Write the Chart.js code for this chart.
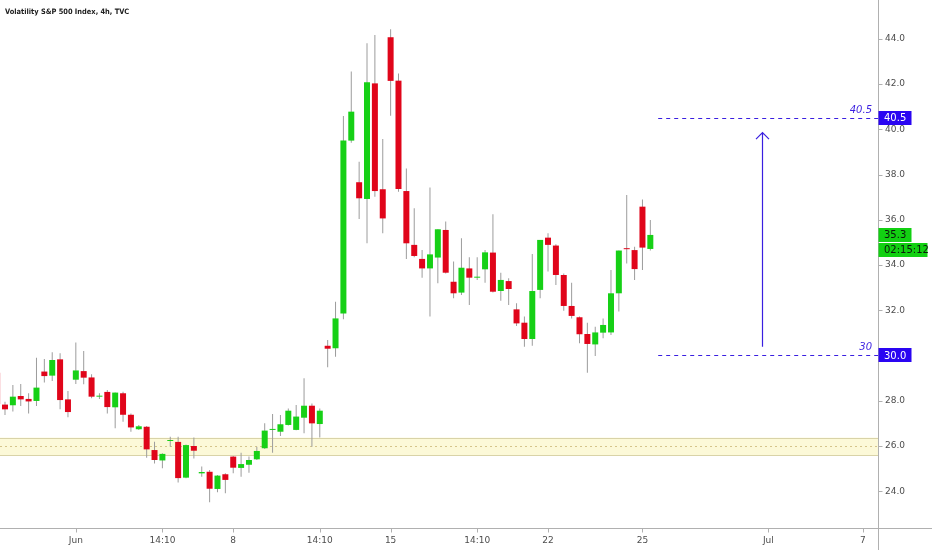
<!DOCTYPE html>
<html><head><meta charset="utf-8">
<script src="https://cdn.jsdelivr.net/npm/chart.js@4.4.0/dist/chart.umd.min.js"></script>
<style>html,body{margin:0;padding:0;background:#fff;overflow:hidden}canvas{display:block}</style>
</head><body>
<canvas id="c" width="932" height="550"></canvas>
<script>
// ---- data (4h candles, VIX) ----
const candleIdx = [0,1,2,3,4,5,6,7,8,9,10,11,12,13,14,15,16,17,18,19,20,21,22,23,24,25,26,27,28,29,30,31,32,33,34,35,36,37,38,39,40,41,42,43,44,45,46,47,48,49,50,51,52,53,54,55,56,57,58,59,60,61,62,63,64,65,66,67,68,69,70,71,72,73,74,75,76,77,78,79,80,81,82,83];
const opens  = [29.24,27.83,27.80,28.21,28.08,27.99,29.29,29.11,29.83,28.06,28.93,29.31,29.03,28.18,28.39,27.71,28.33,27.38,26.74,26.85,25.82,25.36,26.22,26.18,24.60,26.00,24.79,24.86,24.10,24.75,25.53,25.03,25.17,25.41,25.90,26.71,26.63,26.93,26.71,27.25,27.78,26.97,30.43,30.32,31.86,39.50,37.66,36.92,42.03,37.35,44.07,42.15,37.27,34.89,34.27,33.85,34.33,35.55,33.26,32.78,33.85,33.44,33.81,34.55,32.85,33.29,32.04,31.45,30.73,32.90,35.21,34.86,33.56,32.19,31.69,30.95,30.49,31.01,31.02,32.75,34.72,34.66,36.58,34.71];
const highs  = [29.50,27.96,28.70,28.74,28.33,29.90,29.85,30.14,30.10,28.43,30.58,30.20,29.17,28.33,28.48,28.36,28.40,27.44,26.93,26.88,26.19,25.68,26.41,26.41,26.07,26.38,25.09,24.94,24.72,24.79,25.56,25.70,25.53,25.97,27.00,27.41,27.37,27.66,27.81,28.99,27.88,27.66,30.68,32.38,40.59,42.55,38.57,43.80,44.17,39.57,44.42,42.47,38.27,36.51,34.66,37.43,35.58,35.92,34.15,35.18,34.34,34.34,34.66,36.24,33.66,33.41,32.31,31.72,34.49,35.11,35.40,34.92,33.63,33.22,31.72,31.45,31.27,31.64,33.78,34.64,37.10,34.81,36.90,35.99];
const lows   = [27.70,27.37,27.52,27.77,27.44,27.77,28.81,28.87,27.62,27.27,28.74,28.73,28.11,28.08,27.44,26.78,27.07,26.63,26.71,25.48,25.23,25.01,25.97,24.38,24.57,25.45,24.64,23.51,23.95,23.91,24.79,24.64,24.82,25.38,25.87,25.70,26.44,26.90,26.69,26.56,25.97,26.37,29.48,29.95,31.60,39.41,36.03,34.96,37.02,35.40,40.60,37.24,34.27,34.34,33.44,31.72,33.19,33.63,32.53,32.67,32.23,33.34,33.22,32.79,32.42,32.23,31.30,30.39,30.43,32.53,33.71,33.12,31.98,31.64,30.54,29.24,29.98,30.76,30.91,31.94,34.07,33.34,33.78,34.64];
const closes = [27.86,27.62,28.18,28.06,27.97,28.58,29.09,29.80,28.03,27.50,29.34,29.02,28.18,28.20,27.72,28.36,27.38,26.82,26.87,25.85,25.38,25.65,26.22,24.58,26.04,25.79,24.85,24.11,24.69,24.50,25.04,25.20,25.38,25.78,26.68,26.71,26.96,27.56,27.30,27.78,27.00,27.56,30.30,31.64,39.50,40.78,36.95,42.08,37.27,36.06,42.14,37.36,34.96,34.40,33.85,34.47,35.58,33.66,32.75,33.88,33.44,33.45,34.56,32.82,33.34,32.94,31.42,30.73,32.85,35.11,34.89,33.56,32.19,31.75,30.94,30.51,31.02,31.35,32.75,34.64,34.70,33.82,34.77,35.33];

const xTickPos    = [10, 21, 30, 41, 50, 61, 70, 82, 98, 110];
const xTickLabels = ['Jun','14:10','8','14:10','15','14:10','22','25','Jul','7'];
const yTicks      = [24, 26, 28, 30, 32, 34, 36, 38, 40, 42, 44];

// drawings
const zone      = [25.60, 26.37];  // support band
const zoneMid   = [26.0];
const levels    = [40.5, 30.0];    // target / base lines
const levelText = ['40.5', '30'];
const levelStart = [84];
const arrowFromTo = [30.39, 39.85];
const arrowAt   = [97.15];
const lastPrice = [35.33];
const lastText  = ['35.3', '02:15:12'];
const titleText = 'Volatility S&P 500 Index, 4h, TVC';

// ---- styles ----
const UP = '#16d016', DOWN = '#e0051a', WICK = '#9c9c9c';
const BLUE = '#3a1fe0', BLUEBOX = '#2a05f2', GREENBOX = '#12d012';
const AXIS = '#b0b0b0', TXT = '#4d4d4d';
const FONT = '"DejaVu Sans", sans-serif';

const bodyData = candleIdx.map((x, i) => ({x, y: [Math.min(opens[i], closes[i]), Math.max(opens[i], closes[i])]}));
const wickData = candleIdx.map((x, i) => ({x, y: [lows[i], highs[i]]}));
const bodyColors = candleIdx.map((x, i) => closes[i] >= opens[i] ? UP : DOWN);

const overlay = {
  id: 'overlay',
  beforeDatasetsDraw(chart) {
    const {ctx, chartArea: a, scales: {y}} = chart;
    const yt = y.getPixelForValue(zone[1]), yb = y.getPixelForValue(zone[0]);
    ctx.save();
    ctx.fillStyle = 'rgba(252,248,212,0.9)';
    ctx.fillRect(a.left, yt, a.right - a.left, yb - yt);
    ctx.strokeStyle = '#d9d3a8'; ctx.lineWidth = 1.2;
    ctx.beginPath();
    ctx.moveTo(a.left, Math.round(yt) + 0.5); ctx.lineTo(a.right, Math.round(yt) + 0.5);
    ctx.moveTo(a.left, Math.round(yb) + 0.5); ctx.lineTo(a.right, Math.round(yb) + 0.5);
    ctx.stroke();
    ctx.strokeStyle = '#d4c48a'; ctx.lineWidth = 1; ctx.setLineDash([2, 3]);
    const ym = Math.round(y.getPixelForValue(zoneMid[0])) + 0.5;
    ctx.beginPath(); ctx.moveTo(a.left, ym); ctx.lineTo(a.right, ym); ctx.stroke();
    ctx.restore();
  },
  afterDraw(chart) {
    const {ctx, chartArea: a, scales: {x, y}} = chart;
    ctx.save();
    // axis lines
    ctx.strokeStyle = AXIS; ctx.lineWidth = 1;
    ctx.beginPath();
    const by = Math.round(a.bottom) + 0.5, rx = Math.round(a.right) + 0.5;
    ctx.moveTo(0, by); ctx.lineTo(chart.width, by);
    ctx.moveTo(rx, 0); ctx.lineTo(rx, chart.height);
    // tick marks
    xTickPos.forEach(v => { const px = Math.round(x.getPixelForValue(v)) + 0.5; ctx.moveTo(px, by); ctx.lineTo(px, by + 4); });
    yTicks.forEach(v => { const py = Math.round(y.getPixelForValue(v)) + 0.5; ctx.moveTo(rx, py); ctx.lineTo(rx + 4, py); });
    ctx.stroke();

    // level lines
    const xs = x.getPixelForValue(levelStart[0]);
    ctx.strokeStyle = BLUE; ctx.setLineDash([4, 4]);
    levels.forEach(v => {
      const py = Math.round(y.getPixelForValue(v)) + 0.5;
      ctx.beginPath(); ctx.moveTo(xs, py); ctx.lineTo(a.right, py); ctx.stroke();
    });
    ctx.setLineDash([]);
    ctx.fillStyle = BLUE; ctx.font = 'italic 10px ' + FONT; ctx.textAlign = 'right'; ctx.textBaseline = 'alphabetic';
    levels.forEach((v, i) => {
      ctx.fillText(levelText[i], a.right - 6, y.getPixelForValue(v) - 5);
    });

    // arrow
    const ax = Math.round(x.getPixelForValue(arrowAt[0])) + 0.5;
    const y0 = y.getPixelForValue(arrowFromTo[0]), y1 = y.getPixelForValue(arrowFromTo[1]);
    ctx.strokeStyle = BLUE; ctx.lineWidth = 1.2;
    ctx.beginPath(); ctx.moveTo(ax, y0); ctx.lineTo(ax, y1);
    ctx.moveTo(ax - 6.5, y1 + 6.5); ctx.lineTo(ax, y1); ctx.lineTo(ax + 6.5, y1 + 6.5);
    ctx.stroke();

    // axis labels
    const box = (v, txt, bg, fg, w, dy) => {
      const cy = y.getPixelForValue(v) + dy;
      ctx.fillStyle = bg;
      ctx.fillRect(a.right + 0.5, Math.round(cy - 7), w, 14);
      ctx.fillStyle = fg; ctx.font = '10px ' + FONT; ctx.textAlign = 'left'; ctx.textBaseline = 'middle';
      ctx.fillText(txt, a.right + 6, cy + 0.5);
    };
    levels.forEach(v => box(v, v.toFixed(1), BLUEBOX, '#ffffff', 33, 0));
    box(lastPrice[0], lastText[0], GREENBOX, '#0a1a0a', 33, 0);
    box(lastPrice[0], lastText[1], GREENBOX, '#0a1a0a', 49, 15);

    // title
    ctx.fillStyle = '#222'; ctx.font = 'bold 7.4px "DejaVu Sans Condensed", "DejaVu Sans", sans-serif';
    ctx.textAlign = 'left'; ctx.textBaseline = 'middle';
    ctx.fillText(titleText, 5, 12);
    ctx.restore();
  }
};

const hiddenGrid = {display: true, offset: false, drawOnChartArea: false, drawTicks: true, tickLength: 4, color: 'rgba(0,0,0,0)'};

new Chart(document.getElementById('c'), {
  type: 'bar',
  data: {datasets: [
    {label: 'wick', data: wickData, backgroundColor: WICK, barThickness: 1, grouped: false, inflateAmount: 0, order: 2},
    {label: 'body', data: bodyData, backgroundColor: bodyColors, barThickness: 6, grouped: false, minBarLength: 1, inflateAmount: 0, order: 1}
  ]},
  options: {
    responsive: false, animation: false, devicePixelRatio: 1,
    layout: {padding: 0},
    plugins: {legend: {display: false}, tooltip: {enabled: false}, title: {display: false}},
    scales: {
      x: {
        type: 'linear', min: 0.365, max: 111.93, offset: false,
        grid: hiddenGrid,
        border: {display: false},
        afterBuildTicks: s => { s.ticks = xTickPos.map(v => ({value: v})); },
        ticks: {autoSkip: false, maxRotation: 0, minRotation: 0, padding: 3, color: TXT, font: {family: FONT, size: 9},
          callback: v => { const k = xTickPos.indexOf(v); return k >= 0 ? xTickLabels[k] : ''; }},
        afterFit: s => { s.height = 22; s.paddingLeft = 0; s.paddingRight = 0; }
      },
      y: {
        type: 'linear', position: 'right', min: 22.374, max: 45.716,
        grid: hiddenGrid,
        border: {display: false},
        afterBuildTicks: s => { s.ticks = yTicks.map(v => ({value: v})); },
        ticks: {padding: 3, color: TXT, font: {family: FONT, size: 9}, callback: v => Number(v).toFixed(1)},
        afterFit: s => { s.width = 54; s.paddingTop = 0; s.paddingBottom = 0; }
      }
    }
  },
  plugins: [overlay]
});
</script>
</body></html>
